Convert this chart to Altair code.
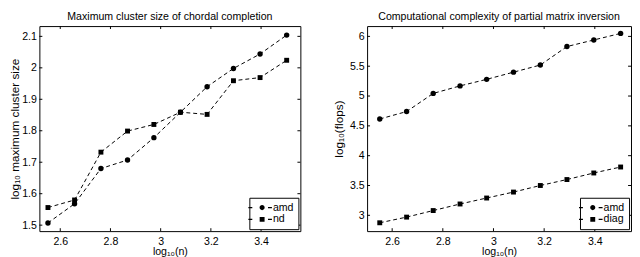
import altair as alt
import pandas as pd

# ---- data ----
log10_n = [2.551, 2.657, 2.762, 2.868, 2.973, 3.079, 3.185, 3.290, 3.396, 3.502]

cluster_amd = [1.507, 1.568, 1.680, 1.707, 1.778, 1.859, 1.940, 1.998, 2.044, 2.104]
cluster_nd = [1.556, 1.580, 1.732, 1.799, 1.820, 1.859, 1.852, 1.959, 1.969, 2.024]

flops_amd = [4.615, 4.740, 5.044, 5.170, 5.280, 5.400, 5.520, 5.830, 5.940, 6.050]
flops_diag = [2.875, 2.970, 3.080, 3.190, 3.290, 3.390, 3.500, 3.600, 3.710, 3.810]

x_ticks = [2.6, 2.8, 3.0, 3.2, 3.4]
y_ticks_left = [1.5, 1.6, 1.7, 1.8, 1.9, 2.0, 2.1]
y_ticks_right = [3.0, 3.5, 4.0, 4.5, 5.0, 5.5, 6.0]

FONT = "Liberation Sans"
FS = 10.8

# legend keys: dash - marker - dash (filled shapes only)
CIRCLE_KEY = ("M-2.8,-0.13H-2V0.13H-2.8Z M1.2,-0.13H2V0.13H1.2Z "
              "M0.52,0A0.52,0.52,0,1,1,-0.52,0A0.52,0.52,0,1,1,0.52,0Z")
SQUARE_KEY = ("M-2.8,-0.13H-2V0.13H-2.8Z M1.2,-0.13H2V0.13H1.2Z "
              "M-0.5,-0.5H0.5V0.5H-0.5Z")


def panel(title, ytitle, names, values, xdom, ydom, yticks, w, h, ytp):
    df = pd.DataFrame({
        "x": log10_n + log10_n,
        "y": values[0] + values[1],
        "series": [names[0]] * len(log10_n) + [names[1]] * len(log10_n),
    })
    xs = alt.Scale(domain=xdom, nice=False, zero=False)
    ys = alt.Scale(domain=ydom, nice=False, zero=False)
    xaxis = alt.Axis(values=x_ticks, format=".1~f", title="log₁₀(n)", ticks=False,
                     tickSize=0, domain=False, grid=False, labelPadding=4.5,
                     titlePadding=0)
    yaxis = alt.Axis(values=yticks, format=".1~f", title=ytitle, ticks=False,
                     tickSize=0, domain=False, grid=False, labelPadding=3,
                     titlePadding=ytp, titleFontSize=12)
    X = alt.X("x:Q", scale=xs, axis=xaxis)
    Y = alt.Y("y:Q", scale=ys, axis=yaxis)

    base = alt.Chart(df)
    line = base.mark_line(color="black", strokeWidth=1, strokeDash=[4, 3]).encode(
        x=X, y=Y, detail="series:N")
    p1 = base.transform_filter(alt.datum.series == names[0]).mark_point(
        shape="circle", filled=True, color="black", size=30, opacity=1).encode(x=X, y=Y)
    p2 = base.transform_filter(alt.datum.series == names[1]).mark_point(
        shape="square", filled=True, color="black", size=25, opacity=1).encode(x=X, y=Y)
    leg = base.transform_filter("false").mark_point(
        filled=True, color="black", size=100, opacity=1).encode(
        x=X, y=Y,
        shape=alt.Shape("series:N",
                        scale=alt.Scale(domain=names, range=[CIRCLE_KEY, SQUARE_KEY]),
                        legend=alt.Legend(title=None, orient="bottom-right", offset=2,
                                          padding=4, strokeColor="black",
                                          fillColor="white", cornerRadius=0,
                                          symbolSize=100, symbolOffset=3,
                                          labelOffset=5, rowPadding=0,
                                          labelExpr="datum.label + ' '")))

    xt = pd.DataFrame({"x": x_ticks})
    yt = pd.DataFrame({"y": yticks})
    rule = dict(color="black", strokeWidth=1)
    tb = alt.Chart(xt).mark_rule(**rule).encode(x=X, y=alt.value(h), y2=alt.value(h - 3))
    tt = alt.Chart(xt).mark_rule(**rule).encode(x=X, y=alt.value(0), y2=alt.value(3))
    tl = alt.Chart(yt).mark_rule(**rule).encode(y=Y, x=alt.value(0), x2=alt.value(3))
    tr = alt.Chart(yt).mark_rule(**rule).encode(y=Y, x=alt.value(w), x2=alt.value(w - 3))

    return alt.layer(line, p1, p2, leg, tb, tt, tl, tr).properties(
        width=w, height=h, title=alt.TitleParams(title))


left = panel("Maximum cluster size of chordal completion",
             "log₁₀ maximum cluster size", ["amd", "nd"],
             [cluster_amd, cluster_nd], [2.5169, 3.5566], [1.481, 2.1327],
             y_ticks_left, 266, 209, 0)
right = panel("Computational complexity of partial matrix inversion",
              "log₁₀(flops)", ["amd", "diag"],
              [flops_amd, flops_diag], [2.501, 3.543], [2.735, 6.173],
              y_ticks_right, 269, 209, 4)

chart = alt.hconcat(left, right, spacing=31).resolve_scale(
    shape="independent", x="independent", y="independent"
).resolve_legend(
    shape="independent"
).properties(
    padding=0, background="white"
).configure_view(
    stroke="black", strokeWidth=1
).configure_axis(
    labelFont=FONT, titleFont=FONT, labelFontSize=FS, titleFontSize=FS,
    labelColor="black", titleColor="black", titleFontWeight="normal"
).configure_title(
    font=FONT, fontSize=FS, fontWeight="normal", color="black", offset=0,
    frame="group", anchor="middle"
).configure_legend(
    labelFont=FONT, labelFontSize=FS, labelColor="black"
)

chart.save("out.html", embed_options={"renderer": "svg", "actions": False})
